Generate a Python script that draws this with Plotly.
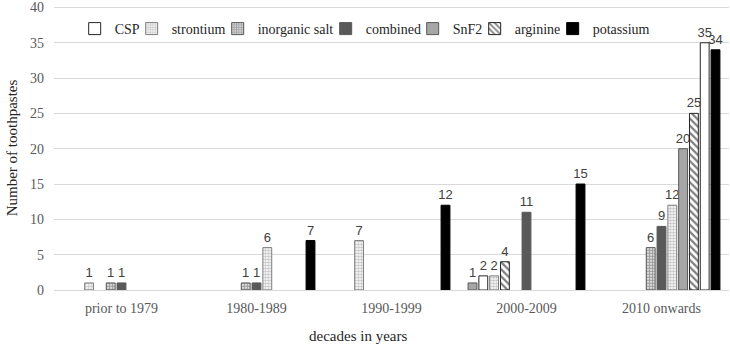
import plotly.graph_objects as go

categories = ["prior to 1979", "1980-1989", "1990-1999", "2000-2009", "2010 onwards"]

# Each list is one bar slot inside the category groups (Excel chart used 11 slots).
snf2_early = [None, None, None, 1, None]
csp_early = [None, None, None, 2, None]
strontium_early = [1, None, 7, 2, None]
arginine_early = [None, None, None, 4, None]
inorganic_salt = [1, 1, None, None, 6]
combined = [1, 1, None, 11, 9]
strontium_late = [None, 6, None, None, 12]
snf2_late = [None, None, None, None, 20]
arginine_late = [None, None, None, None, 25]
csp_late = [None, None, None, None, 35]
potassium = [None, 7, 12, 15, 34]

series_names = ["CSP", "strontium", "inorganic salt", "combined", "SnF2", "arginine", "potassium"]

styles = {
    "CSP": dict(color="white", line=dict(color="#262626", width=1)),
    "strontium": dict(color="white", line=dict(color="#7f7f7f", width=1),
                      pattern=dict(shape=".", fgcolor="#8c8c8c", bgcolor="white", size=3, solidity=0.55)),
    "inorganic salt": dict(color="white", line=dict(color="#595959", width=1),
                           pattern=dict(shape=".", fgcolor="#3a3a3a", bgcolor="white", size=3, solidity=0.7)),
    "combined": dict(color="#595959", line=dict(color="#595959", width=1)),
    "SnF2": dict(color="#a6a6a6", line=dict(color="#595959", width=1)),
    "arginine": dict(color="white", line=dict(color="#262626", width=1),
                     pattern=dict(shape="\\", fgcolor="black", bgcolor="white", size=5, solidity=0.45)),
    "potassium": dict(color="black", line=dict(color="black", width=1)),
}

slots = [
    ("SnF2", snf2_early, True),
    ("CSP", csp_early, False),
    ("strontium", strontium_early, True),
    ("arginine", arginine_early, True),
    ("inorganic salt", inorganic_salt, True),
    ("combined", combined, True),
    ("strontium", strontium_late, False),
    ("SnF2", snf2_late, False),
    ("arginine", arginine_late, False),
    ("CSP", csp_late, True),
    ("potassium", potassium, True),
]

# compact legend spacing (px)
legend_widths = {"CSP": 12, "strontium": 41, "inorganic salt": 63, "combined": 42,
                 "SnF2": 17, "arginine": 33, "potassium": 58}

fig = go.Figure()
for name, vals, show in slots:
    fig.add_trace(go.Bar(
        x=categories, y=vals, name=name, legendgroup=name, showlegend=show,
        legendrank=series_names.index(name) + 1,
        legendwidth=legend_widths[name],
        marker=styles[name],
        text=[("" if v is None else str(v)) for v in vals],
        textposition="outside", constraintext="none", cliponaxis=False,
        textfont=dict(family="Liberation Sans, Arial", size=13, color="#404040"),
    ))

fig.update_layout(
    width=730, height=345,
    margin=dict(l=54, r=1, t=6, b=55),
    paper_bgcolor="white", plot_bgcolor="white",
    barmode="group", bargap=0.12, bargroupgap=0.18,
    font=dict(family="Liberation Serif, Times New Roman, serif", size=14, color="#595959"),
    legend=dict(orientation="h", x=0.461, xanchor="center", y=0.919, yanchor="middle",
                bgcolor="rgba(0,0,0,0)",
                font=dict(family="Liberation Serif, Times New Roman, serif", size=14, color="#262626"),
                itemwidth=30, traceorder="normal"),
    xaxis=dict(showline=True, linecolor="#d9d9d9", linewidth=1, showgrid=False,
               tickfont=dict(size=14, color="#595959"), ticklabelstandoff=5),
    yaxis=dict(range=[0, 40.2], tickvals=[0, 5, 10, 15, 20, 25, 30, 35, 40],
               showgrid=True, gridcolor="#d9d9d9", zeroline=False,
               tickfont=dict(size=14, color="#595959"), ticklabelstandoff=9,
               ticklabeloverflow="allow",
               title=dict(text="Number of toothpastes", standoff=8,
                          font=dict(size=15, color="#262626")),
               automargin=False),
    annotations=[dict(text="decades in years", xref="paper", yref="paper", x=0.45, y=-0.163,
                      xanchor="center", yanchor="middle", showarrow=False,
                      font=dict(size=15, color="#262626"))],
)

fig.write_html("out.html", config={"displayModeBar": False},
               post_script="document.body.style.margin='0';document.body.style.overflow='hidden';")
